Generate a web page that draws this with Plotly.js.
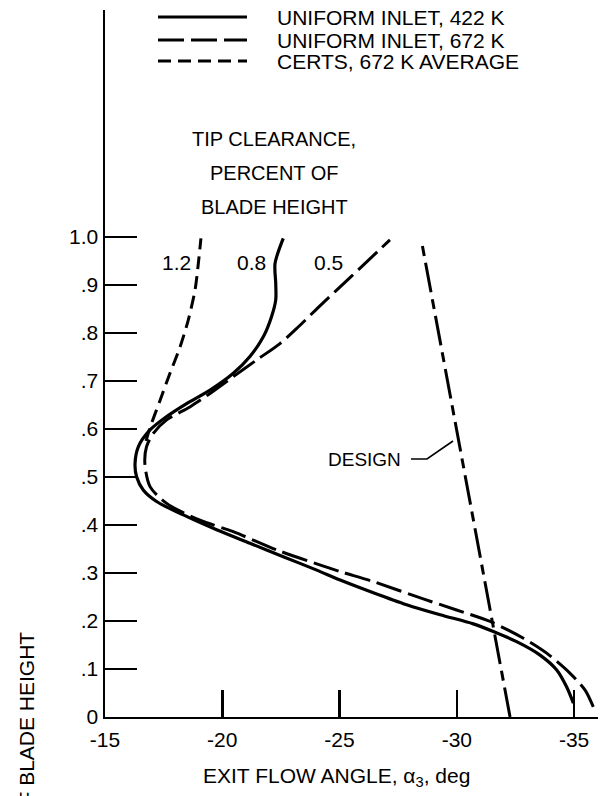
<!DOCTYPE html>
<html>
<head>
<meta charset="utf-8">
<script src="https://cdn.plot.ly/plotly-3.0.1.min.js"></script>
<style>html,body{margin:0;padding:0;background:#fff;}#chart{width:601px;height:796px;}</style>
</head>
<body>
<div id="chart"></div>
<script>
// ---- data (exit flow angle, deg ; fraction of blade height) ----
var solid422_x = [-34.97, -34.68, -34.26, -33.55, -32.55, -31.56, -30.7, -29.29, -27.86, -26.44, -25.0, -24.03, -22.6, -21.18, -19.76, -18.34, -17.2, -16.63, -16.35, -16.28, -16.42, -16.92, -17.63, -18.48, -19.48, -20.47, -21.18, -21.75, -22.1, -22.28, -22.28, -22.25, -22.6];
var solid422_y = [0.029, 0.063, 0.098, 0.129, 0.157, 0.178, 0.194, 0.213, 0.234, 0.259, 0.286, 0.306, 0.334, 0.362, 0.39, 0.421, 0.449, 0.473, 0.5, 0.527, 0.563, 0.598, 0.626, 0.653, 0.681, 0.716, 0.751, 0.792, 0.834, 0.869, 0.903, 0.945, 0.997];

var uni672_x = [-35.82, -35.47, -34.83, -33.83, -32.84, -31.42, -29.99, -28.57, -26.44, -25.02, -24.03, -22.32, -20.47, -19.05, -17.63, -16.92, -16.7, -16.77, -17.06, -17.63, -18.62, -19.48, -20.47, -21.47, -22.46, -23.25, -24.13, -25.48, -27.15];
var uni672_y = [0.021, 0.056, 0.091, 0.133, 0.164, 0.199, 0.223, 0.246, 0.282, 0.303, 0.319, 0.348, 0.386, 0.41, 0.445, 0.48, 0.528, 0.563, 0.591, 0.619, 0.646, 0.674, 0.709, 0.744, 0.778, 0.813, 0.855, 0.917, 0.994];

var certs_x = [-16.75, -16.9, -17.35, -17.77, -18.2, -18.55, -18.84, -18.98, -19.09];
var certs_y = [0.575, 0.6, 0.66, 0.716, 0.771, 0.827, 0.89, 0.945, 0.997];

var design_x = [-32.27, -28.5];
var design_y = [0.0, 0.99];

var legendNames = ["UNIFORM INLET, 422 K", "UNIFORM INLET, 672 K", "CERTS, 672 K AVERAGE"];
var clearanceLabels = ["1.2", "0.8", "0.5"];
var xTickVals = [-15, -20, -25, -30, -35];
var xTickText = ["-15", "-20", "-25", "-30", "-35"];
var yTickVals = [0, 0.1, 0.2, 0.3, 0.4, 0.5, 0.6, 0.7, 0.8, 0.9, 1.0];
var yTickText = ["0", ".1", ".2", ".3", ".4", ".5", ".6", ".7", ".8", ".9", "1.0"];

// ---- layout geometry ----
var W = 601, H = 796;
var M = {l: 105, r: 3, t: 10, b: 79};
function px(x) { return (x - M.l) / (W - M.l - M.r); }
function py(y) { return (H - M.b - y) / (H - M.t - M.b); }

var FONT = "Liberation Sans, Arial, sans-serif";
var DASH_LONG = "26px,7px";
var DASH_SHORT = "13px,7px";
var DASH_DESIGN = "30px,7px,10px,7px";

var traces = [
  {x: solid422_x, y: solid422_y, mode: "lines", name: legendNames[0],
   line: {color: "#000", width: 3.2, shape: "spline", smoothing: 0.8}},
  {x: uni672_x, y: uni672_y, mode: "lines", name: legendNames[1],
   line: {color: "#000", width: 3, dash: DASH_LONG, shape: "spline", smoothing: 0.8}},
  {x: certs_x, y: certs_y, mode: "lines", name: legendNames[2],
   line: {color: "#000", width: 3, dash: DASH_SHORT, shape: "spline", smoothing: 0.8}},
  {x: design_x, y: design_y, mode: "lines", name: "DESIGN",
   line: {color: "#000", width: 3, dash: DASH_DESIGN}}
];

var legendRows = [17, 40, 61];
var legendDash = ["solid", DASH_LONG, DASH_SHORT];
var shapes = [];
var annotations = [];
for (var i = 0; i < 3; i++) {
  shapes.push({type: "line", xref: "paper", yref: "paper",
    x0: px(158), x1: px(247), y0: py(legendRows[i]), y1: py(legendRows[i]),
    line: {color: "#000", width: 3, dash: legendDash[i]}});
  annotations.push({xref: "paper", yref: "paper", x: px(275), y: py(legendRows[i]),
    xanchor: "left", yanchor: "middle", showarrow: false, text: legendNames[i],
    font: {family: FONT, size: 21, color: "#000"}});
}
// DESIGN leader
shapes.push({type: "path", xref: "paper", yref: "paper",
  path: "M" + px(411) + "," + py(459) + " L" + px(427) + "," + py(459) + " L" + px(453) + "," + py(441),
  line: {color: "#000", width: 1.6}});

var tipLines = ["TIP CLEARANCE,", "PERCENT OF", "BLADE HEIGHT"];
var tipY = [139, 173, 207];
for (var j = 0; j < 3; j++) {
  annotations.push({xref: "paper", yref: "paper", x: px(274), y: py(tipY[j]),
    xanchor: "center", yanchor: "middle", showarrow: false, text: tipLines[j],
    font: {family: FONT, size: 20, color: "#000"}});
}
var clX = [176, 251, 328];
for (var k = 0; k < 3; k++) {
  annotations.push({xref: "paper", yref: "paper", x: px(clX[k]), y: py(262),
    xanchor: "center", yanchor: "middle", showarrow: false, text: clearanceLabels[k],
    font: {family: FONT, size: 21, color: "#000"}});
}
annotations.push({xref: "paper", yref: "paper", x: px(403), y: py(459),
  xanchor: "right", yanchor: "middle", showarrow: false, text: "DESIGN",
  font: {family: FONT, size: 19, color: "#000"}});
annotations.push({xref: "paper", yref: "paper", x: px(336), y: py(777),
  xanchor: "center", yanchor: "middle", showarrow: false,
  text: "EXIT FLOW ANGLE, \u03b1<sub>3</sub>, deg",
  font: {family: FONT, size: 21, color: "#000"}});
annotations.push({xref: "paper", yref: "paper", x: px(26), y: py(630),
  xanchor: "center", yanchor: "top", textangle: -90, showarrow: false,
  text: "FRACTION OF BLADE HEIGHT",
  font: {family: FONT, size: 21, color: "#000"}});

var layout = {
  width: W, height: H,
  margin: M,
  paper_bgcolor: "#fff", plot_bgcolor: "#fff",
  showlegend: false,
  font: {family: FONT, size: 21, color: "#000"},
  xaxis: {range: [-15, -36.02], showgrid: false, zeroline: false,
    showline: true, linecolor: "#000", linewidth: 2,
    ticks: "inside", ticklen: 27, tickwidth: 2.5, tickcolor: "#000",
    ticklabelstandoff: 3,
    tickvals: xTickVals, ticktext: xTickText,
    tickfont: {family: FONT, size: 21, color: "#000"}},
  yaxis: {range: [0, 1.4729], showgrid: false, zeroline: false,
    showline: true, linecolor: "#000", linewidth: 2.5,
    ticks: "inside", ticklen: 32, tickwidth: 2.5, tickcolor: "#000",
    tickvals: yTickVals, ticktext: yTickText,
    tickfont: {family: FONT, size: 21, color: "#000"}},
  shapes: shapes,
  annotations: annotations
};

Plotly.newPlot("chart", traces, layout, {staticPlot: true});
</script>
</body>
</html>
